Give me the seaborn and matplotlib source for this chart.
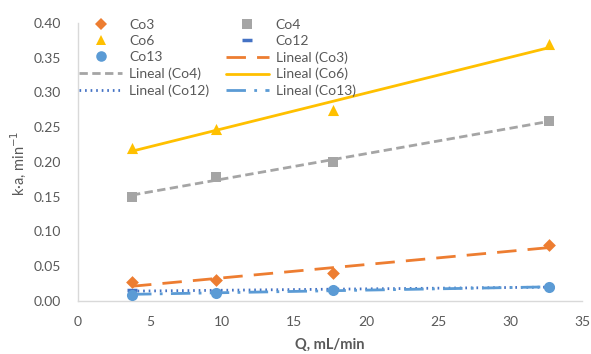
import numpy as np
import pandas as pd
import matplotlib
matplotlib.use("Agg")
import matplotlib.pyplot as plt
from matplotlib.lines import Line2D
import seaborn as sns

# Flow rate (mL/min) and k·a values (min^-1) for each series
q = [3.75, 9.6, 17.7, 32.7]
co3 = [0.027, 0.030, 0.040, 0.081]
co4 = [0.150, 0.179, 0.200, 0.259]
co6 = [0.220, 0.248, 0.275, 0.370]
co12 = [0.015, 0.014, 0.017, 0.020]
co13 = [0.009, 0.012, 0.015, 0.020]

x_ticks = [0, 5, 10, 15, 20, 25, 30, 35]
y_ticks = [0.00, 0.05, 0.10, 0.15, 0.20, 0.25, 0.30, 0.35, 0.40]

sns.set_theme(style="white")
plt.rcParams["font.family"] = ["Lato", "DejaVu Sans"]

text_col = "#595959"
series = [
    ("Co3", co3, "#ED7D31", "D", 6.5, (0, (7, 4))),
    ("Co4", co4, "#A5A5A5", "s", 7.5, (0, (3, 1.6))),
    ("Co6", co6, "#FFC000", "^", 8, "-"),
    ("Co12", co12, "#4472C4", "_", 7, (0, (0.6, 1.4))),
    ("Co13", co13, "#5B9BD5", "o", 8, (0, (7, 3, 1, 3))),
]

fig = plt.figure(figsize=(5.91, 3.54), dpi=100)
ax = fig.add_axes([0.132, 0.150, 0.853, 0.785])

df = pd.DataFrame({"Q": q})
marker_handles = {}
line_handles = {}
for name, vals, col, mk, ms, ls in series:
    df[name] = vals
    # linear trendline over the data range
    sns.regplot(data=df, x="Q", y=name, ax=ax, scatter=False, ci=None,
                truncate=True,
                line_kws=dict(color=col, lw=2.0, linestyle=ls,
                              dash_capstyle="butt", zorder=2))
    if mk == "_":
        ax.plot(q, vals, linestyle="none", marker="_", markersize=ms,
                markeredgewidth=2.5, color=col, zorder=3)
    else:
        sns.scatterplot(data=df, x="Q", y=name, ax=ax, marker=mk,
                        s=ms ** 2, color=col, edgecolor=col, linewidth=0,
                        zorder=3)
    marker_handles[name] = Line2D([], [], linestyle="none", marker=mk,
                                  markersize=ms * 0.95, color=col,
                                  markeredgewidth=2.5 if mk == "_" else 0)
    line_handles[name] = Line2D([], [], color=col, lw=2.0, linestyle=ls,
                                dash_capstyle="butt")

ax.set_xlim(0, 35)
ax.set_ylim(0, 0.40)
ax.set_xticks(x_ticks)
ax.set_yticks(y_ticks)
ax.set_yticklabels([f"{v:.2f}" for v in y_ticks])
ax.tick_params(axis="both", colors=text_col, labelsize=10, length=0)
ax.tick_params(axis="y", pad=12)
ax.tick_params(axis="x", pad=11)
for s in ["top", "right"]:
    ax.spines[s].set_visible(False)
for s in ["left", "bottom"]:
    ax.spines[s].set_color("#D9D9D9")
    ax.spines[s].set_linewidth(1.0)

ax.set_xlabel("Q, mL/min", fontsize=10.5, fontweight="bold", color=text_col)
ax.set_ylabel("k·a, min$^{-1}$", fontsize=10.5, color=text_col)
ax.xaxis.set_label_coords(0.5, -0.133)
ax.yaxis.set_label_coords(-0.099, 0.496)

# Legend laid out column-wise so rows read left to right
order = [
    marker_handles["Co3"], marker_handles["Co6"], marker_handles["Co13"],
    line_handles["Co4"], line_handles["Co12"],
    marker_handles["Co4"], marker_handles["Co12"],
    line_handles["Co3"], line_handles["Co6"], line_handles["Co13"],
]
labels = ["Co3", "Co6", "Co13", "Lineal (Co4)", "Lineal (Co12)",
          "Co4", "Co12", "Lineal (Co3)", "Lineal (Co6)", "Lineal (Co13)"]
leg = ax.legend(order, labels, ncol=2, loc="upper left",
                bbox_to_anchor=(-0.009, 1.035), frameon=False, fontsize=10,
                handlelength=3.1, handletextpad=0.5, columnspacing=1.2,
                labelspacing=0.3, borderaxespad=0)
for t in leg.get_texts():
    t.set_color(text_col)

fig.savefig("out.png", dpi=100)
